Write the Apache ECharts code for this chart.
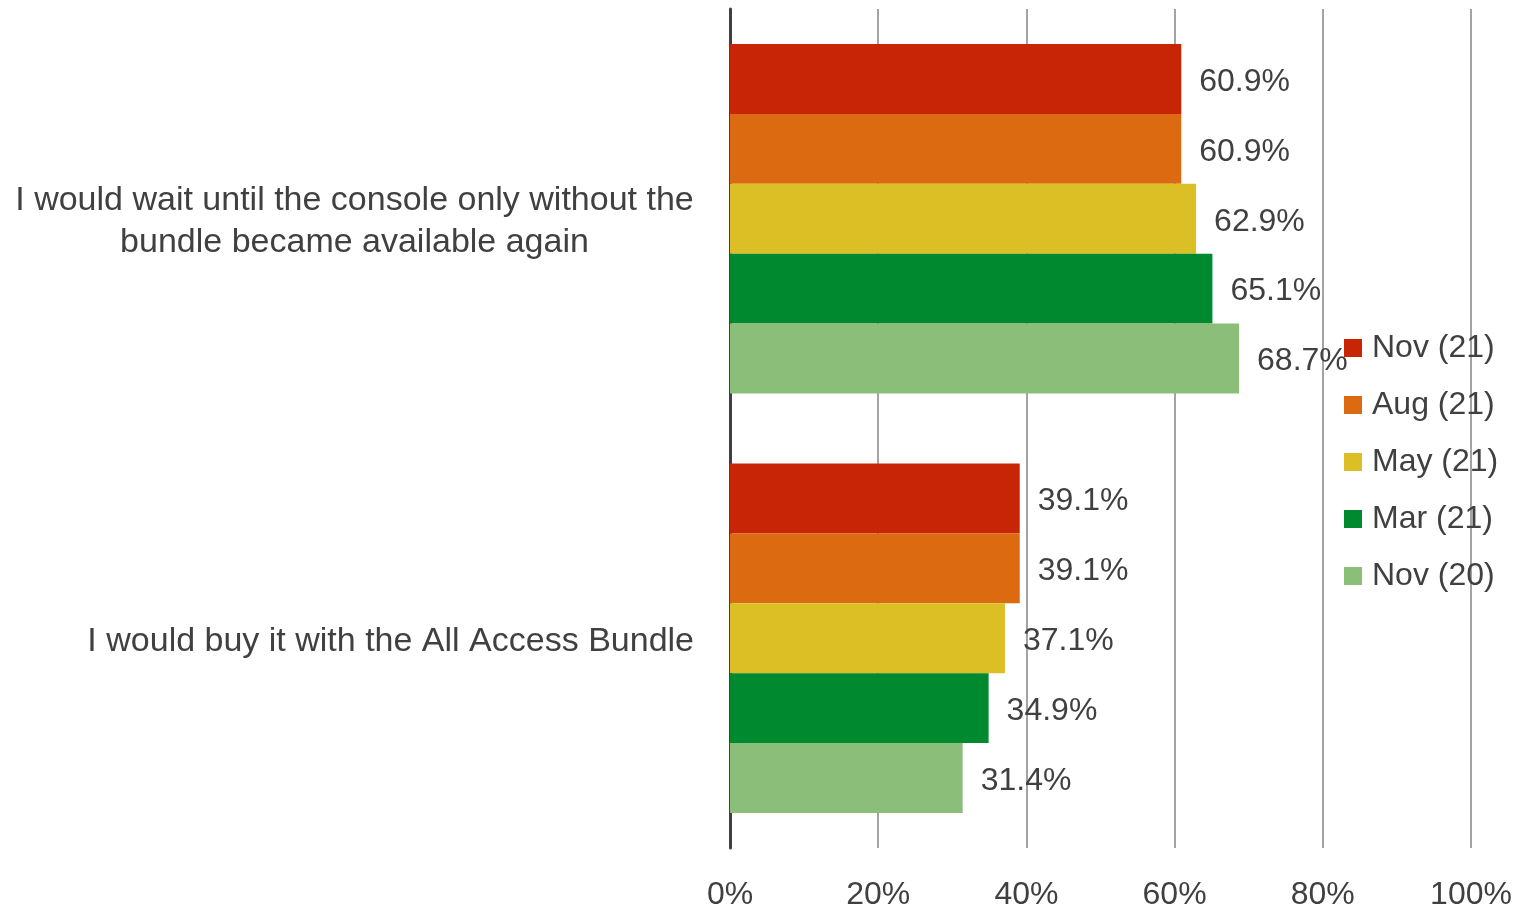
<!DOCTYPE html>
<html>
<head>
<meta charset="utf-8">
<title>Console purchase intent</title>
<script src="https://cdn.jsdelivr.net/npm/echarts@6/dist/echarts.min.js"></script>
<style>
  html, body { margin: 0; padding: 0; background: #ffffff; }
  #chart { width: 1535px; height: 911px; }
</style>
</head>
<body>
<div id="chart"></div>
<script>
// Survey answers (top to bottom)
const categories = [
  'I would wait until the console only without the\nbundle became available again',
  'I would buy it with the All Access Bundle'
];

// Share of respondents per survey wave, in percent
const seriesNames = ['Nov (21)', 'Aug (21)', 'May (21)', 'Mar (21)', 'Nov (20)'];
const nov21 = [60.9, 39.1];
const aug21 = [60.9, 39.1];
const may21 = [62.9, 37.1];
const mar21 = [65.1, 34.9];
const nov20 = [68.7, 31.4];

// Value axis ticks
const xTicks = [0, 20, 40, 60, 80, 100];

const seriesValues = [nov21, aug21, may21, mar21, nov20];
const colors = ['#C82507', '#DC6A10', '#DCBE25', '#00892E', '#8BBE79'];

const FONT = '"Liberation Sans", Arial, sans-serif';
const TEXT = '#404040';
const CAT_SIZE = 34;

// Width of the widest wrapped line, so wrapped labels are centred within their block
const ctx = document.createElement('canvas').getContext('2d');
ctx.font = CAT_SIZE + 'px "Liberation Sans"';
let wrapWidth = 0;
categories.forEach(function (c) {
  if (c.indexOf('\n') >= 0) {
    c.split('\n').forEach(function (l) {
      wrapWidth = Math.max(wrapWidth, Math.ceil(ctx.measureText(l).width));
    });
  }
});

const chart = echarts.init(document.getElementById('chart'), null, { renderer: 'canvas' });

const option = {
  animation: false,
  backgroundColor: '#ffffff',
  color: colors,
  textStyle: { fontFamily: FONT },
  grid: { left: 730, right: 64, top: 9, bottom: 62, containLabel: false },
  legend: {
    orient: 'vertical',
    left: 1339,
    top: 325,
    icon: 'rect',
    itemWidth: 18,
    itemHeight: 18,
    itemGap: 21,
    data: seriesNames,
    textStyle: { fontSize: 32, color: TEXT, fontFamily: FONT, lineHeight: 36, padding: [0, 0, 0, 5] }
  },
  xAxis: {
    type: 'value',
    min: xTicks[0],
    max: xTicks[xTicks.length - 1],
    interval: xTicks[1] - xTicks[0],
    axisLine: { show: false },
    axisTick: { show: false },
    axisLabel: {
      formatter: '{value}%',
      fontSize: 32,
      color: TEXT,
      fontFamily: FONT,
      margin: 31
    },
    splitLine: { show: true, lineStyle: { color: '#A3A3A3', width: 2 } }
  },
  yAxis: {
    type: 'category',
    inverse: true,
    data: categories,
    axisLine: { show: true, lineStyle: { color: '#404040', width: 3 } },
    axisTick: { show: false },
    axisLabel: {
      fontSize: CAT_SIZE,
      color: TEXT,
      fontFamily: FONT,
      margin: 36,
      lineHeight: 42,
      align: 'right',
      padding: [6, 0, 0, 0],
      formatter: function (v) {
        if (v.indexOf('\n') < 0) return v;
        return v.split('\n').map(function (l) { return '{w|' + l + '}'; }).join('\n');
      },
      rich: {
        w: { width: wrapWidth, align: 'center', fontSize: CAT_SIZE, lineHeight: 42, color: TEXT, fontFamily: FONT }
      }
    }
  },
  series: seriesNames.map(function (name, i) {
    return {
      name: name,
      type: 'bar',
      data: seriesValues[i],
      barGap: '0%',
      barCategoryGap: '16.67%',
      itemStyle: { color: colors[i] },
      label: {
        show: true,
        position: 'right',
        distance: 18,
        offset: [0, 3],
        fontSize: 32,
        color: TEXT,
        fontFamily: FONT,
        formatter: function (p) { return p.value.toFixed(1) + '%'; }
      }
    };
  })
};

chart.setOption(option);
</script>
</body>
</html>
